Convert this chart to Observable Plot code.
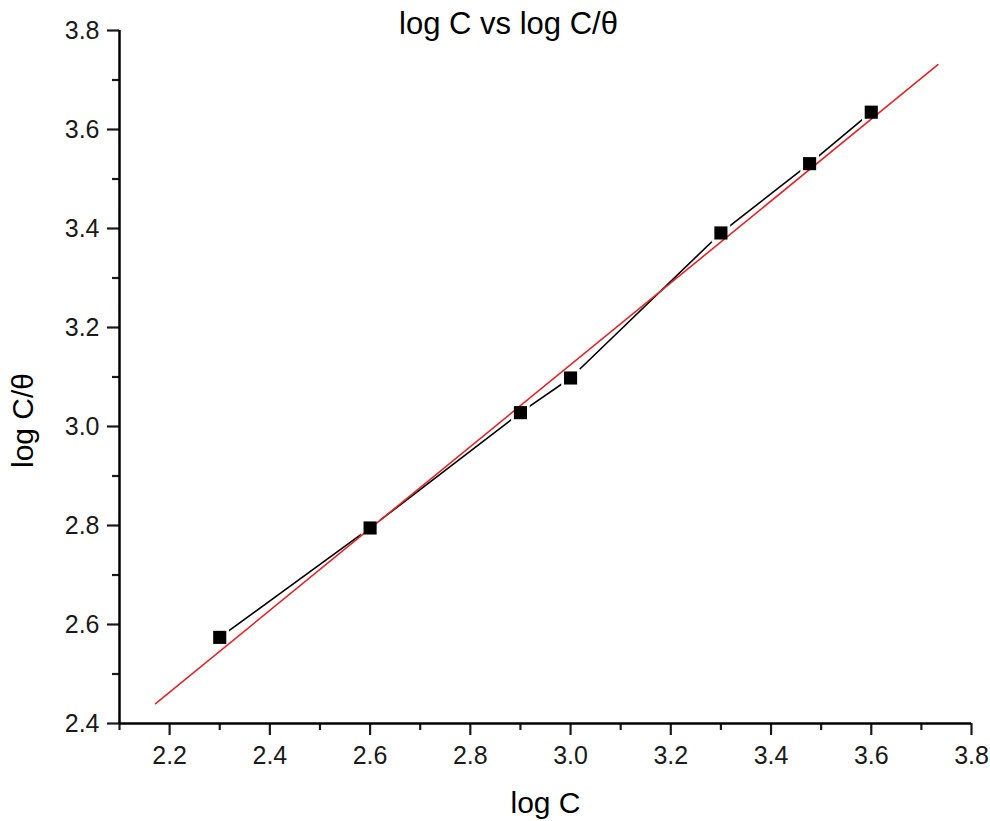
<!DOCTYPE html>
<html>
<head>
<meta charset="utf-8">
<script src="https://cdn.jsdelivr.net/npm/d3@7"></script>
<script src="https://cdn.jsdelivr.net/npm/@observablehq/plot@0.6"></script>
<style>
  html, body { margin: 0; padding: 0; background: #fff; }
</style>
</head>
<body>
<div id="chart"></div>
<script>
// Data
const logC      = [2.30, 2.60, 2.90, 3.00, 3.30, 3.477, 3.60];
const logCTheta = [2.574, 2.795, 3.028, 3.098, 3.391, 3.531, 3.635];

// Linear fit line (endpoints)
const fitX = [2.172, 3.733];
const fitY = [2.440, 3.731];

// Ticks
const xMajorTicks = [2.2, 2.4, 2.6, 2.8, 3.0, 3.2, 3.4, 3.6, 3.8];
const xMinorTicks = [2.1, 2.3, 2.5, 2.7, 2.9, 3.1, 3.3, 3.5, 3.7];
const yMajorTicks = [2.4, 2.6, 2.8, 3.0, 3.2, 3.4, 3.6, 3.8];
const yMinorTicks = [2.5, 2.7, 2.9, 3.1, 3.3, 3.5, 3.7];

const titleText = "log C vs log C/θ";
const xLabelText = "log C";
const yLabelText = "log C/θ";

const points = logC.map((x, i) => ({x, y: logCTheta[i]}));
const fit = fitX.map((x, i) => ({x, y: fitY[i]}));
const fmt = d3.format(".1f");

const chart = Plot.plot({
  width: 990,
  height: 821,
  marginLeft: 119,
  marginRight: 19,
  marginTop: 30,
  marginBottom: 98,
  x: {domain: [2.1, 3.8]},
  y: {domain: [2.4, 3.8]},
  style: {
    fontFamily: "'Liberation Sans', Arial, sans-serif",
    fontSize: "24px",
    color: "#1a1a1a",
    background: "#fff"
  },
  marks: [
    Plot.axisX(xMajorTicks, {tickSize: 12, tickPadding: 11, strokeWidth: 2.2, tickFormat: fmt, label: null, fontSize: 25}),
    Plot.axisX(xMinorTicks, {tickSize: 7, strokeWidth: 2.2, tickFormat: () => "", label: null}),
    Plot.axisY(yMajorTicks, {tickSize: 12, tickPadding: 8, strokeWidth: 2.2, tickFormat: fmt, label: null, fontSize: 25}),
    Plot.axisY(yMinorTicks, {tickSize: 7, strokeWidth: 2.2, tickFormat: () => "", label: null}),
    Plot.ruleX([2.1], {stroke: "#000", strokeWidth: 2.5}),
    Plot.ruleY([2.4], {stroke: "#000", strokeWidth: 2.5}),
    Plot.line(points, {x: "x", y: "y", stroke: "#000", strokeWidth: 1.6}),
    Plot.dot(points, {x: "x", y: "y", symbol: "square", r: 10.5, fill: "#fff", stroke: "none"}),
    Plot.line(fit, {x: "x", y: "y", stroke: "#e0262b", strokeWidth: 1.6}),
    Plot.dot(points, {x: "x", y: "y", symbol: "square", r: 7.4, fill: "#000", stroke: "none"}),
    Plot.text([titleText], {frameAnchor: "top", dx: -37, dy: -6, fontSize: 31, lineAnchor: "middle", fill: "#000"}),
    Plot.text([xLabelText], {frameAnchor: "bottom", dx: 0, dy: 80, fontSize: 30, lineAnchor: "middle", fill: "#000"}),
    Plot.text([yLabelText], {frameAnchor: "left", dx: -96, dy: 91, rotate: -90, textAnchor: "start", lineAnchor: "middle", fontSize: 30, fill: "#000"})
  ]
});

document.getElementById("chart").appendChild(chart);
</script>
</body>
</html>
